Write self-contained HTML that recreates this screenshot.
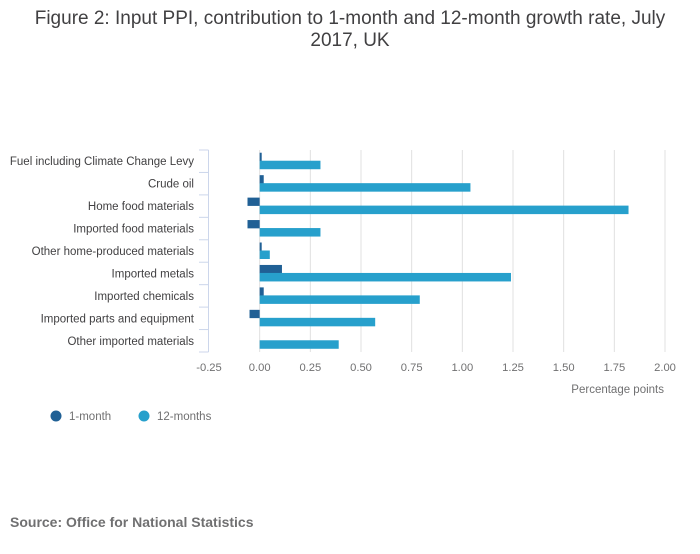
<!DOCTYPE html>
<html><head><meta charset="utf-8"><style>
body{margin:0;background:#fff;font-family:"Liberation Sans",sans-serif;}
svg text{font-family:"Liberation Sans",sans-serif;}
</style></head><body>
<svg id="c" width="700" height="549">
<text x="350" y="24" text-anchor="middle" font-size="19" fill="#414042">Figure 2: Input PPI, contribution to 1-month and 12-month growth rate, July</text>
<text x="350" y="46" text-anchor="middle" font-size="19" fill="#414042">2017, UK</text>
<g id="grid"></g><g id="bars"></g><g id="axes"></g>
<text x="664" y="393" text-anchor="end" font-size="11.5" fill="#707071">Percentage points</text>
<g>
<circle cx="56" cy="416" r="5.5" fill="#206095"/>
<text x="69" y="420" font-size="11.5" fill="#707071">1-month</text>
<circle cx="144" cy="416" r="5.5" fill="#27a0cc"/>
<text x="157" y="420" font-size="11.5" fill="#707071">12-months</text>
</g>
<text x="10" y="527" font-size="14" font-weight="bold" fill="#707071">Source: Office for National Statistics</text>
</svg>
<script>
const categories=["Fuel including Climate Change Levy","Crude oil","Home food materials","Imported food materials","Other home-produced materials","Imported metals","Imported chemicals","Imported parts and equipment","Other imported materials"];
const oneMonth=[0.01,0.02,-0.06,-0.06,0.01,0.11,0.02,-0.05,0];
const twelveMonths=[0.30,1.04,1.82,0.30,0.05,1.24,0.79,0.57,0.39];
const ticks=[-0.25,0,0.25,0.5,0.75,1,1.25,1.5,1.75,2];
const tickLabels=["-0.25","0.00","0.25","0.50","0.75","1.00","1.25","1.50","1.75","2.00"];
const NS="http://www.w3.org/2000/svg";
const xMin=-0.25,xMax=2,pxL=209,pxR=665,plotTop=150,plotBottom=352;
const rowH=(plotBottom-plotTop)/categories.length;
const X=v=>pxL+(v-xMin)/(xMax-xMin)*(pxR-pxL);
function mk(tag,attrs,parent,txt){const e=document.createElementNS(NS,tag);for(const k in attrs)e.setAttribute(k,attrs[k]);if(txt!==undefined)e.textContent=txt;document.getElementById(parent).appendChild(e);return e;}
ticks.forEach((t,i)=>{
 if(i>0){const g=mk('line',{x1:X(t),x2:X(t),y1:plotTop,y2:plotBottom,stroke:'#e0e0e0','stroke-width':1},'grid');
 
 }
 const l=mk('text',{x:X(t),y:371,'text-anchor':'middle','font-size':11.2,fill:'#707071'},'axes',tickLabels[i]);
 
 
});
const ax=mk('line',{x1:208.5,x2:208.5,y1:plotTop,y2:plotBottom,stroke:'#ccd6eb','stroke-width':1},'axes');


for(let i=0;i<=categories.length;i++){const y=plotTop+i*rowH;
 const tk=mk('line',{x1:199,x2:208.5,y1:y,y2:y,stroke:'#ccd6eb','stroke-width':1},'axes');
 
 }
categories.forEach((c,i)=>{
 const cy=plotTop+(i+0.5)*rowH;
 const t=mk('text',{x:194,y:cy+4,'text-anchor':'end','font-size':11.5,fill:'#414042'},'axes',c);
 
 
 const a=oneMonth[i],b=twelveMonths[i];
 const r1=mk('rect',{x:Math.min(X(0),X(a)),y:cy-8.5,width:Math.max(Math.abs(X(a)-X(0)),a!==0?1.5:0),height:8.3,fill:'#206095'},'bars');
 
 
 const r2=mk('rect',{x:Math.min(X(0),X(b)),y:cy-0.5,width:Math.abs(X(b)-X(0)),height:8.5,fill:'#27a0cc'},'bars');
 
 
});
</script>
</body></html>
